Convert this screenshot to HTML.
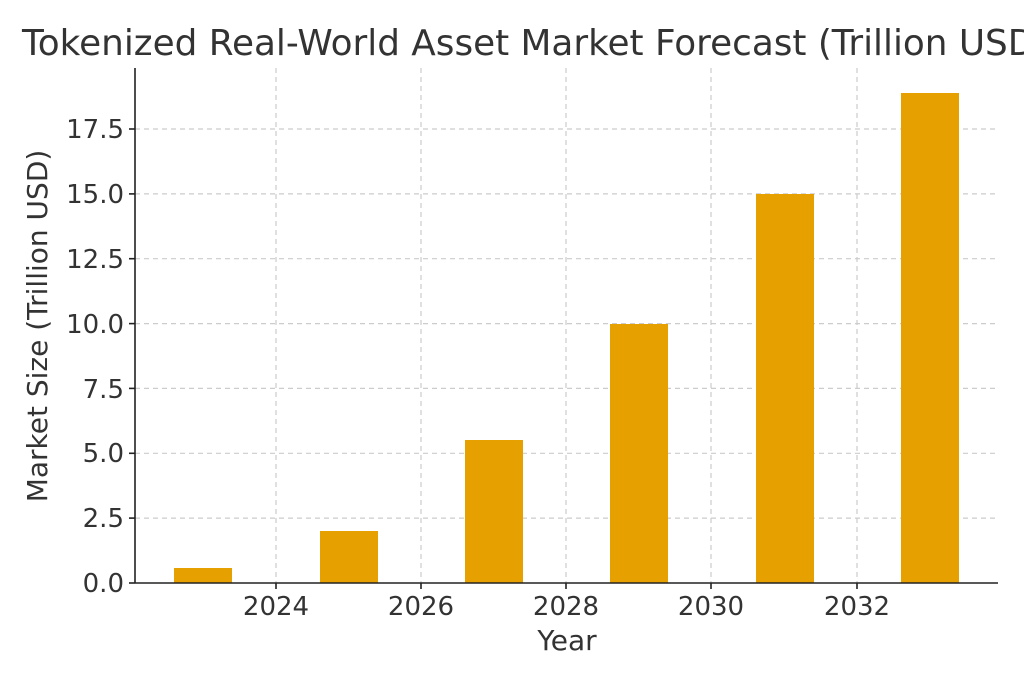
<!DOCTYPE html>
<html><head><style>body{margin:0;background:#fff}svg{display:block}</style></head>
<body>
<svg width="1024" height="683" xmlns="http://www.w3.org/2000/svg" font-family="DejaVu Sans, Liberation Sans, sans-serif">
<rect width="1024" height="683" fill="#fff"/>
<text x="22" y="55" font-size="35.8" fill="#333">Tokenized Real-World Asset Market Forecast (Trillion USD)</text>
<g stroke="#ccc" stroke-width="1.2" stroke-dasharray="5,4">
<line x1="276" y1="68" x2="276" y2="583"/>
<line x1="421" y1="68" x2="421" y2="583"/>
<line x1="566" y1="68" x2="566" y2="583"/>
<line x1="711" y1="68" x2="711" y2="583"/>
<line x1="857" y1="68" x2="857" y2="583"/>
<line x1="135" y1="518.1" x2="998" y2="518.1"/>
<line x1="135" y1="453.3" x2="998" y2="453.3"/>
<line x1="135" y1="388.4" x2="998" y2="388.4"/>
<line x1="135" y1="323.6" x2="998" y2="323.6"/>
<line x1="135" y1="258.7" x2="998" y2="258.7"/>
<line x1="135" y1="193.9" x2="998" y2="193.9"/>
<line x1="135" y1="129" x2="998" y2="129"/>
</g>
<g fill="#e6a000">
<rect x="174" y="568" width="58" height="15"/>
<rect x="320" y="531" width="58" height="52"/>
<rect x="465" y="440" width="58" height="143"/>
<rect x="610" y="324" width="58" height="259"/>
<rect x="756" y="194" width="58" height="389"/>
<rect x="901" y="93" width="58" height="490"/>
</g>
<g stroke="#222" stroke-width="1.6">
<line x1="135" y1="68" x2="135" y2="583"/>
<line x1="135" y1="583" x2="998" y2="583"/>
<line x1="276" y1="583" x2="276" y2="589"/>
<line x1="421" y1="583" x2="421" y2="589"/>
<line x1="566" y1="583" x2="566" y2="589"/>
<line x1="711" y1="583" x2="711" y2="589"/>
<line x1="857" y1="583" x2="857" y2="589"/>
<line x1="129" y1="583" x2="135" y2="583"/>
<line x1="129" y1="518.1" x2="135" y2="518.1"/>
<line x1="129" y1="453.3" x2="135" y2="453.3"/>
<line x1="129" y1="388.4" x2="135" y2="388.4"/>
<line x1="129" y1="323.6" x2="135" y2="323.6"/>
<line x1="129" y1="258.7" x2="135" y2="258.7"/>
<line x1="129" y1="193.9" x2="135" y2="193.9"/>
<line x1="129" y1="129" x2="135" y2="129"/>
</g>
<g font-size="26" fill="#333" text-anchor="middle">
<text x="276" y="615">2024</text>
<text x="421" y="615">2026</text>
<text x="566" y="615">2028</text>
<text x="711" y="615">2030</text>
<text x="857" y="615">2032</text>
<text x="567" y="650" font-size="28">Year</text>
</g>
<g font-size="26" fill="#333" text-anchor="end">
<text x="124" y="592">0.0</text>
<text x="124" y="527">2.5</text>
<text x="124" y="462">5.0</text>
<text x="124" y="398">7.5</text>
<text x="124" y="333">10.0</text>
<text x="124" y="268">12.5</text>
<text x="124" y="203">15.0</text>
<text x="124" y="138">17.5</text>
</g>
<text transform="translate(47,326) rotate(-90)" font-size="28" fill="#333" text-anchor="middle">Market Size (Trillion USD)</text>
</svg>
</body></html>
